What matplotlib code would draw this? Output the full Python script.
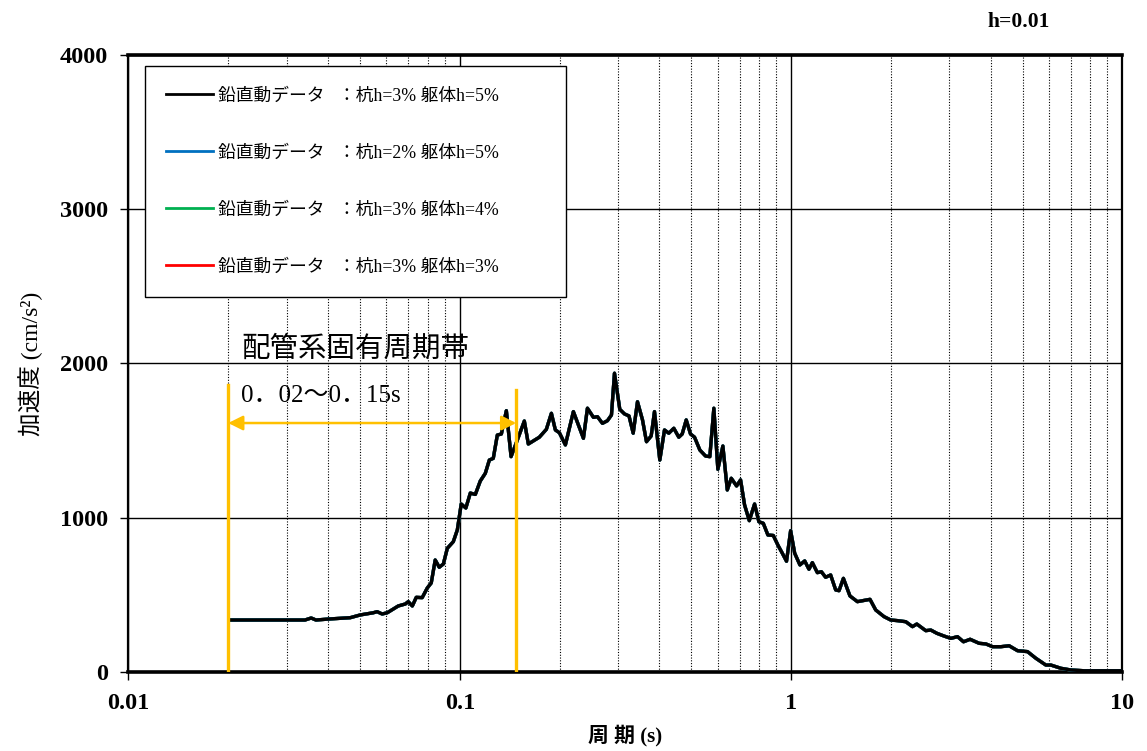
import numpy as np
import matplotlib
matplotlib.use("Agg")
import matplotlib.pyplot as plt
from matplotlib.ticker import LogLocator, FixedLocator, NullFormatter

plt.rcParams['font.family'] = ['Liberation Serif', 'Noto Sans CJK JP', 'DejaVu Sans']

# response spectrum (period s, acceleration cm/s2)
period = [0.0201, 0.0341, 0.0356, 0.0368, 0.0406, 0.0436, 0.0467, 0.0501, 0.0548, 0.0563,
          0.0583, 0.0604, 0.0630, 0.0652, 0.0685, 0.0699, 0.0719, 0.0739, 0.0770, 0.0798,
          0.0820, 0.0843, 0.0867, 0.0892, 0.0917, 0.0956, 0.0983, 0.1010, 0.1043, 0.1076,
          0.1114, 0.1153, 0.1194, 0.1228, 0.1262, 0.1298, 0.1335, 0.1382, 0.1428, 0.1492,
          0.1566, 0.1610, 0.1667, 0.1738, 0.1825, 0.1890, 0.1943, 0.1998, 0.2083, 0.2202,
          0.2361, 0.2428, 0.2531, 0.2603, 0.2695, 0.2790, 0.2869, 0.2930, 0.3040, 0.3141,
          0.3241, 0.3337, 0.3438, 0.3560, 0.3660, 0.3781, 0.3869, 0.4015, 0.4148, 0.4274,
          0.4425, 0.4581, 0.4691, 0.4824, 0.4970, 0.5111, 0.5303, 0.5517, 0.5684, 0.5845,
          0.6010, 0.6223, 0.6417, 0.6597, 0.6844, 0.7038, 0.7236, 0.7477, 0.7757, 0.7993,
          0.8241, 0.8510, 0.8835, 0.9135, 0.9406, 0.9685, 0.9966, 1.025, 1.063, 1.099,
          1.132, 1.159, 1.200, 1.234, 1.271, 1.316, 1.363, 1.395, 1.438, 1.505,
          1.585, 1.641, 1.730, 1.800, 1.907, 1.998, 2.093, 2.218, 2.324, 2.395,
          2.549, 2.640, 2.752, 2.895, 3.034, 3.178, 3.313, 3.469, 3.694, 3.870,
          4.055, 4.295, 4.550, 4.824, 5.170, 5.478, 5.872, 6.081, 6.519, 6.989,
          7.666, 10.0]
accel = [337, 337, 350, 337, 344, 348, 352, 370, 384, 391,
         376, 384, 408, 428, 441, 456, 428, 484, 482, 545,
         577, 726, 679, 700, 802, 845, 921, 1089, 1063, 1160,
         1151, 1238, 1288, 1374, 1385, 1536, 1543, 1694, 1396, 1504,
         1627, 1478, 1498, 1522, 1573, 1677, 1569, 1551, 1472, 1688,
         1515, 1710, 1651, 1655, 1612, 1629, 1666, 1937, 1703, 1673,
         1660, 1548, 1752, 1634, 1493, 1530, 1688, 1374, 1569, 1548,
         1580, 1522, 1543, 1634, 1543, 1522, 1439, 1400, 1396, 1710,
         1314, 1465, 1180, 1256, 1206, 1245, 1083, 981, 1089, 974,
         964, 888, 885, 820, 770, 718, 916, 770, 694, 720,
         666, 709, 644, 650, 614, 629, 532, 527, 607, 493,
         456, 462, 471, 402, 359, 337, 333, 326, 294, 311,
         268, 272, 251, 233, 218, 229, 196, 212, 186, 182,
         164, 164, 170, 138, 132, 89, 45, 45, 24, 13,
         8, 8]

labels = ["鉛直動データ   ：杭h=3% 躯体h=5%",
          "鉛直動データ   ：杭h=2% 躯体h=5%",
          "鉛直動データ   ：杭h=3% 躯体h=4%",
          "鉛直動データ   ：杭h=3% 躯体h=3%"]
colors = ["black", "#0070C0", "#00B050", "#FF0000"]

band = [0.02, 0.148]
band_top = [1860, 1828]
arrow_y = 1614

fig = plt.figure(figsize=(11.47, 7.51), dpi=100)
ax = fig.add_axes([0.112, 0.1052, 0.8666, 0.8216])

handles = [None] * 4
for i in [3, 2, 1, 0]:
    handles[i], = ax.plot(period, accel, color=colors[i], lw=2.4, label=labels[i], zorder=3 + (3 - i) * 0.1)

ax.set_xscale('log')
ax.set_xlim(0.01, 10)
ax.set_ylim(0, 4000)
ax.set_yticks([0, 1000, 2000, 3000, 4000])
ax.xaxis.set_major_locator(FixedLocator([0.01, 0.1, 1, 10]))
ax.set_xticklabels(["0.01", "0.1", "1", "10"])
ax.xaxis.set_minor_locator(LogLocator(base=10, subs=np.arange(2, 10)))
ax.xaxis.set_minor_formatter(NullFormatter())
ax.tick_params(axis='x', which='minor', length=0)
ax.tick_params(axis='both', which='major', direction='out', length=6, width=1,
               labelsize=17.5, pad=9)
for lab in ax.get_xticklabels() + ax.get_yticklabels():
    lab.set_fontweight('bold')

ax.grid(True, which='major', color='black', lw=1.0, ls='-', zorder=1)
ax.grid(True, which='minor', axis='x', color='black', lw=0.8, ls=(0, (1, 1.5)), zorder=1)
for s in ['top', 'bottom']:
    ax.spines[s].set_linewidth(2.6)
for s in ['left', 'right']:
    ax.spines[s].set_linewidth(1.6)

# natural period band of the piping system
for xb, yt in zip(band, band_top):
    ax.plot([xb, xb], [0, yt], color='#FFC000', lw=2.4, zorder=5)
ax.annotate('', xy=(band[0], arrow_y), xytext=(band[1], arrow_y),
            arrowprops=dict(arrowstyle='<|-|>', color='#FFC000', lw=1.8,
                            mutation_scale=22, shrinkA=0, shrinkB=0), zorder=5)
ax.text(0.0219, 2090, "配管系固有周期帯", fontsize=20.5, va='center', ha='left')
ax.text(0.0219, 1790, "0．02～0．15s", fontsize=18, va='center', ha='left')

leg = ax.legend(handles=handles, loc='upper left',
                bbox_to_anchor=(0.0166, 0.0, 0.4232, 0.982), mode='expand',
                fontsize=12.8, labelspacing=2.25, handlelength=2.6, handletextpad=0.3,
                borderpad=1.2, borderaxespad=0, frameon=True, fancybox=False,
                framealpha=1)
leg.get_frame().set_edgecolor('black')
leg.get_frame().set_linewidth(1.0)
leg.set_zorder(6)
for ln in leg.get_lines():
    ln.set_linewidth(2.0)

ax.set_xlabel("周 期 (s)", fontsize=15, fontweight='bold', labelpad=8)
ax.set_ylabel("加速度 (cm/s²)", fontsize=17, labelpad=12)
fig.text(0.888, 0.971, "h=0.01", fontsize=15.5, fontweight='bold', ha='center', va='center')

fig.savefig("out.png", dpi=100)
